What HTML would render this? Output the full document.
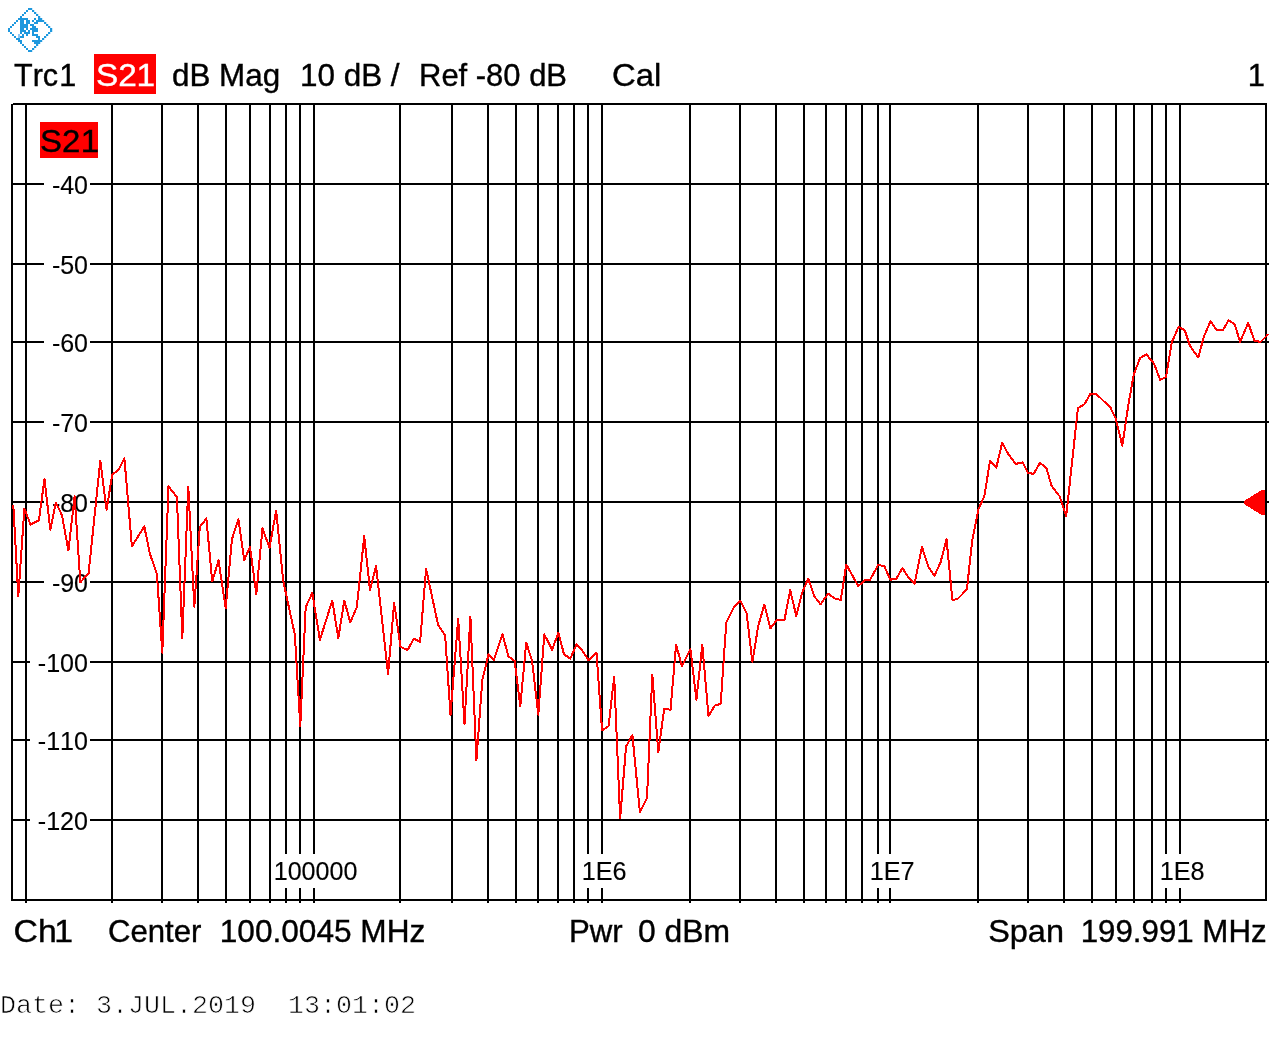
<!DOCTYPE html>
<html lang="en"><head><meta charset="utf-8"><title>S21 dB Mag</title>
<style>html,body{margin:0;padding:0;background:#fff;}body{width:1278px;height:1052px;position:relative;overflow:hidden;font-family:"Liberation Sans",Arial,sans-serif;}</style>
</head><body>
<svg width="1278" height="1052" viewBox="0 0 1278 1052" style="position:absolute;left:0;top:0">
<g shape-rendering="crispEdges" fill="#000">
<rect x="11" y="183" width="1258" height="2"/>
<rect x="11" y="263" width="1258" height="2"/>
<rect x="11" y="341" width="1258" height="2"/>
<rect x="11" y="421" width="1258" height="2"/>
<rect x="11" y="501" width="1258" height="2"/>
<rect x="11" y="581" width="1258" height="2"/>
<rect x="11" y="661" width="1258" height="2"/>
<rect x="11" y="739" width="1258" height="2"/>
<rect x="11" y="819" width="1258" height="2"/>
<rect x="25" y="103" width="2" height="800"/>
<rect x="111" y="103" width="2" height="800"/>
<rect x="161" y="103" width="2" height="800"/>
<rect x="197" y="103" width="2" height="800"/>
<rect x="225" y="103" width="2" height="800"/>
<rect x="249" y="103" width="2" height="800"/>
<rect x="269" y="103" width="2" height="800"/>
<rect x="285" y="103" width="2" height="800"/>
<rect x="299" y="103" width="2" height="800"/>
<rect x="313" y="103" width="2" height="800"/>
<rect x="399" y="103" width="2" height="800"/>
<rect x="451" y="103" width="2" height="800"/>
<rect x="487" y="103" width="2" height="800"/>
<rect x="515" y="103" width="2" height="800"/>
<rect x="537" y="103" width="2" height="800"/>
<rect x="557" y="103" width="2" height="800"/>
<rect x="573" y="103" width="2" height="800"/>
<rect x="587" y="103" width="2" height="800"/>
<rect x="601" y="103" width="2" height="800"/>
<rect x="689" y="103" width="2" height="800"/>
<rect x="739" y="103" width="2" height="800"/>
<rect x="775" y="103" width="2" height="800"/>
<rect x="803" y="103" width="2" height="800"/>
<rect x="825" y="103" width="2" height="800"/>
<rect x="845" y="103" width="2" height="800"/>
<rect x="861" y="103" width="2" height="800"/>
<rect x="877" y="103" width="2" height="800"/>
<rect x="889" y="103" width="2" height="800"/>
<rect x="977" y="103" width="2" height="800"/>
<rect x="1027" y="103" width="2" height="800"/>
<rect x="1063" y="103" width="2" height="800"/>
<rect x="1091" y="103" width="2" height="800"/>
<rect x="1115" y="103" width="2" height="800"/>
<rect x="1133" y="103" width="2" height="800"/>
<rect x="1151" y="103" width="2" height="800"/>
<rect x="1165" y="103" width="2" height="800"/>
<rect x="1179" y="103" width="2" height="800"/>
<rect x="13" y="103" width="1254" height="1"/>
<rect x="11" y="104" width="1256" height="1"/>
<rect x="11" y="899" width="1256" height="2"/>
<rect x="11" y="104" width="2" height="797"/>
<rect x="1265" y="103" width="2" height="798"/>
</g>
<g shape-rendering="crispEdges" fill="#fff">
<rect x="44" y="182" width="46" height="4"/>
<rect x="44" y="262" width="46" height="4"/>
<rect x="44" y="340" width="46" height="4"/>
<rect x="44" y="420" width="46" height="4"/>
<rect x="44" y="500" width="46" height="4"/>
<rect x="44" y="580" width="46" height="4"/>
<rect x="30" y="660" width="60" height="4"/>
<rect x="30" y="738" width="60" height="4"/>
<rect x="30" y="818" width="60" height="4"/>
<rect x="272" y="854" width="86.4" height="34"/>
<rect x="580" y="854" width="47.5" height="34"/>
<rect x="868" y="854" width="47.5" height="34"/>
<rect x="1158" y="854" width="47.5" height="34"/>
</g>
<rect x="94" y="54" width="62" height="40" fill="#f00" shape-rendering="crispEdges"/>
<rect x="40" y="122" width="58" height="36" fill="#f00" shape-rendering="crispEdges"/>
<polygon points="1243.6,501.2 1262,489.8 1265,489.8 1265,515.2 1262,515.2 1243.6,503.8" fill="#f00" shape-rendering="crispEdges"/>
<g font-family="Liberation Sans, Arial, sans-serif" style="font-kerning:none">
<text id="trc1" transform="translate(14.00 86.0) scale(0.9556 1)" dx="0 0 0 1.16" font-size="32" fill="#000" stroke="#000" stroke-width="0.4">Trc1</text>
<text id="s21w" transform="translate(95.96 86.0) scale(1.0444 1)" dx="0 0 -0.28" font-size="32" fill="#fff" stroke="#fff" stroke-width="0.4">S21</text>
<text id="dbmag" transform="translate(171.92 86.0) scale(0.9815 1)" font-size="32" fill="#000" stroke="#000" stroke-width="0.4">dB Mag</text>
<text id="tendb" transform="translate(299.95 86.0) scale(0.9828 1)" font-size="32" fill="#000" stroke="#000" stroke-width="0.4">10 dB /</text>
<text id="ref" transform="translate(419.07 86.0) scale(0.9673 1)" font-size="32" fill="#000" stroke="#000" stroke-width="0.4">Ref -80 dB</text>
<text id="cal" transform="translate(611.97 86.0) scale(1.0267 1)" font-size="32" fill="#000" stroke="#000" stroke-width="0.4">Cal</text>
<text id="one" transform="translate(1247.80 86.0) scale(0.9670 1)" font-size="32" fill="#000" stroke="#000" stroke-width="0.4">1</text>
<text id="s21b" transform="translate(40.07 152.0) scale(1.0306 1)" dx="0 0 0.29" font-size="32" fill="#000" stroke="#000" stroke-width="0.4">S21</text>
<text id="ch1" transform="translate(13.54 942.0) scale(1.0553 1)" dx="0 0 -2.26" font-size="32" fill="#000" stroke="#000" stroke-width="0.4">Ch1</text>
<text id="center" transform="translate(108.03 942.0) scale(0.9726 1)" font-size="32" fill="#000" stroke="#000" stroke-width="0.4">Center</text>
<text id="cfreq" transform="translate(219.74 942.0) scale(0.9877 1)" font-size="32" fill="#000" stroke="#000" stroke-width="0.4">100.0045 MHz</text>
<text id="pwr" transform="translate(569.05 942.0) scale(0.9736 1)" font-size="32" fill="#000" stroke="#000" stroke-width="0.4">Pwr</text>
<text id="dbm" transform="translate(638.00 942.0) scale(0.9967 1)" font-size="32" fill="#000" stroke="#000" stroke-width="0.4">0 dBm</text>
<text id="span" transform="translate(988.19 942.0) scale(1.0139 1)" font-size="32" fill="#000" stroke="#000" stroke-width="0.4">Span</text>
<text id="sfreq" transform="translate(1080.67 942.0) scale(0.9774 1)" font-size="32" fill="#000" stroke="#000" stroke-width="0.4">199.991 MHz</text>
<text id="y40" transform="translate(51.88 193.8)" font-size="25" fill="#000" stroke="#000" stroke-width="0.15">-40</text>
<text id="y50" transform="translate(51.88 273.8)" font-size="25" fill="#000" stroke="#000" stroke-width="0.15">-50</text>
<text id="y60" transform="translate(51.88 351.8)" font-size="25" fill="#000" stroke="#000" stroke-width="0.15">-60</text>
<text id="y70" transform="translate(51.88 431.8)" font-size="25" fill="#000" stroke="#000" stroke-width="0.15">-70</text>
<text id="y80" transform="translate(51.88 511.8)" font-size="25" fill="#000" stroke="#000" stroke-width="0.15">-80</text>
<text id="y90" transform="translate(51.88 591.8)" font-size="25" fill="#000" stroke="#000" stroke-width="0.15">-90</text>
<text id="y100" transform="translate(37.77 671.8) scale(1.0042 1)" font-size="25" fill="#000" stroke="#000" stroke-width="0.15">-100</text>
<text id="y110" transform="translate(37.77 749.8) scale(1.0042 1)" font-size="25" fill="#000" stroke="#000" stroke-width="0.15">-110</text>
<text id="y120" transform="translate(37.77 829.8) scale(1.0042 1)" font-size="25" fill="#000" stroke="#000" stroke-width="0.15">-120</text>
<text id="x100000" transform="translate(273.69 880.0) scale(1.0037 1)" font-size="25" fill="#000" stroke="#000" stroke-width="0.15">100000</text>
<text id="x1E6" transform="translate(581.79 880.0) scale(1.0073 1)" font-size="25" fill="#000" stroke="#000" stroke-width="0.15">1E6</text>
<text id="x1E7" transform="translate(869.69 880.0) scale(1.0073 1)" font-size="25" fill="#000" stroke="#000" stroke-width="0.15">1E7</text>
<text id="x1E8" transform="translate(1159.68 880.0) scale(1.0098 1)" font-size="25" fill="#000" stroke="#000" stroke-width="0.15">1E8</text>
</g>
<text id="date" x="0" y="1012.5" font-family="Liberation Mono, Courier New, monospace" font-size="26.67" fill="#000" stroke="#fff" stroke-width="0.7" paint-order="fill stroke" style="white-space:pre">Date: 3.JUL.2019  13:01:02</text>
<polyline points="13.3,504.8 18.3,596 24.4,508.6 30.5,524.5 38.9,520.3 44.5,478.9 50.3,529.9 55.9,502.5 62,515.4 68.4,550.4 74.6,496.4 80.3,582.4 88.6,573.2 100.3,460.6 106.6,510.1 112.2,474.3 118.2,470.3 124.4,458.4 131.9,546.4 144.3,526.5 149.9,553.8 156.9,573.8 162.3,652.7 168.5,486.5 176.9,496.9 182.3,638.1 188.3,486.5 194.3,606.7 199.8,526.9 206.4,518.5 212.2,581.5 218.5,560.4 225.7,608.2 231.9,539.3 238.4,519.2 244.3,560.1 250,547 256.3,594 262.5,528.4 269.5,547.7 276.2,510.5 283.2,580.9 294.8,634.4 300.3,726.2 305.7,607.1 312.3,592.9 319.9,639.9 332.3,600.5 338.3,638.1 344.3,600.5 350.3,622.4 356.8,607.3 364.2,536.3 370,590.2 376.1,566.2 388.1,674.1 394.1,602.7 400.5,646.7 407.6,650.1 413.8,638.5 420.1,641.9 426.1,568.8 438.2,625.3 445.1,635.3 450.5,714.7 458.2,618.5 464.5,724.1 470.4,616.5 476.4,760.3 482.3,680.2 488.5,654.5 493.8,660.4 502.5,634.2 508.4,656.2 514.7,661 520.3,706.4 526.2,642.6 532,660.4 538.3,714.7 544.3,634.4 552.1,649.7 558.4,632.6 564,654.3 570.3,658.5 576.6,644.5 582.4,650.8 588.5,660.2 596.5,652.9 602.1,730.6 608.6,726 614.2,676.5 620.1,818.4 626.1,746.3 632.4,735 639.9,812.4 647,798.2 652.3,674.5 658.3,752.1 664.2,708.8 670.5,709.8 676.1,644.8 682,666.3 690.4,649 696.4,699.8 702.3,644.8 708.5,716.1 714.8,705.6 720.7,703.9 726.3,622.4 733.6,607.8 740.3,600.9 746.6,613 752.4,662.1 758.1,626.6 764.35,604.5 770.3,628.5 776.8,619.8 784.5,619.8 790.2,590.2 796.3,616.2 802.2,592.5 808.2,578.8 814.5,596.5 820.5,604.4 828.2,593.6 834.1,598.2 840.8,599.9 846.3,564.5 858.3,586.2 864.9,579.9 870.1,579.8 878.2,565 884.3,566.2 890.4,579.7 896.4,578.6 902.5,568 908.5,577.6 914.5,583.7 922,547 928.4,566.9 934.4,575.7 940.5,562.6 946.5,539.1 952.4,600 957.6,599 966.9,589.4 972.3,539.8 978.4,509.3 984.35,496 990.1,460.6 996.3,467.7 1002.2,442.6 1008.1,453.8 1015.8,463.9 1022.6,462.4 1028.1,472.9 1033.7,473.9 1039.9,462.8 1046.4,468 1051.6,485.9 1059.7,496.4 1066.2,516.2 1077.9,408.2 1084.5,404.2 1090.6,393.6 1095.9,393.6 1110.6,407.8 1115.9,419.1 1122.3,445.7 1128.5,403.8 1133.9,373.9 1140.1,358.2 1146.2,354.3 1153.8,363.2 1160.2,379.9 1166,376.9 1171.75,342.4 1178.6,326.8 1184.75,330.2 1189.95,346 1198.3,357.5 1203.8,336.8 1210.6,321 1216.1,329.7 1223.1,329.7 1228.6,320.3 1234.6,324.1 1240.1,341.8 1248.2,322.8 1254.5,341 1260.8,341.8 1268.2,334.2" fill="none" stroke="#f00" stroke-width="2" shape-rendering="crispEdges" stroke-linejoin="round"/>
<path d="M32 8h1v2h-1zM34 10h1v2h-1zM36 12h1v2h-1zM38 14h1v2h-1zM40 16h1v2h-1zM42 18h1v2h-1zM44 20h1v2h-1zM46 22h1v2h-1zM48 24h1v2h-1zM50 26h1v2h-1zM50 32h1v2h-1zM48 34h1v2h-1zM46 36h1v2h-1zM44 38h1v2h-1zM42 40h1v2h-1zM40 42h1v2h-1zM38 44h1v2h-1zM36 46h1v2h-1zM34 48h1v2h-1zM32 50h1v2h-1zM52 28h1v4h-1z" fill="#cdeaf9" shape-rendering="crispEdges"/>
<path d="M28 8h2v2h-2zM30 8h2v2h-2zM26 10h2v2h-2zM32 10h2v2h-2zM24 12h2v2h-2zM34 12h2v2h-2zM22 14h2v2h-2zM36 14h2v2h-2zM20 16h2v2h-2zM38 16h2v2h-2zM18 18h2v2h-2zM20 18h2v2h-2zM22 18h2v2h-2zM24 18h2v2h-2zM26 18h2v2h-2zM34 18h2v2h-2zM38 18h2v2h-2zM40 18h2v2h-2zM16 20h2v2h-2zM20 20h2v2h-2zM22 20h2v2h-2zM26 20h2v2h-2zM28 20h2v2h-2zM32 20h2v2h-2zM36 20h2v2h-2zM38 20h2v2h-2zM40 20h2v2h-2zM42 20h2v2h-2zM14 22h2v2h-2zM20 22h2v2h-2zM22 22h2v2h-2zM26 22h2v2h-2zM28 22h2v2h-2zM34 22h2v2h-2zM36 22h2v2h-2zM44 22h2v2h-2zM12 24h2v2h-2zM20 24h2v2h-2zM22 24h2v2h-2zM24 24h2v2h-2zM26 24h2v2h-2zM30 24h2v2h-2zM32 24h2v2h-2zM46 24h2v2h-2zM10 26h2v2h-2zM20 26h2v2h-2zM22 26h2v2h-2zM24 26h2v2h-2zM26 26h2v2h-2zM32 26h2v2h-2zM34 26h2v2h-2zM48 26h2v2h-2zM8 28h2v2h-2zM20 28h2v2h-2zM22 28h2v2h-2zM26 28h2v2h-2zM30 28h2v2h-2zM32 28h2v2h-2zM34 28h2v2h-2zM36 28h2v2h-2zM50 28h2v2h-2zM8 30h2v2h-2zM20 30h2v2h-2zM22 30h2v2h-2zM24 30h2v2h-2zM28 30h2v2h-2zM32 30h2v2h-2zM34 30h2v2h-2zM36 30h2v2h-2zM50 30h2v2h-2zM10 32h2v2h-2zM20 32h2v2h-2zM24 32h2v2h-2zM26 32h2v2h-2zM28 32h2v2h-2zM32 32h2v2h-2zM48 32h2v2h-2zM12 34h2v2h-2zM22 34h2v2h-2zM26 34h2v2h-2zM32 34h2v2h-2zM34 34h2v2h-2zM36 34h2v2h-2zM46 34h2v2h-2zM14 36h2v2h-2zM20 36h2v2h-2zM22 36h2v2h-2zM36 36h2v2h-2zM38 36h2v2h-2zM44 36h2v2h-2zM16 38h2v2h-2zM18 38h2v2h-2zM38 38h2v2h-2zM42 38h2v2h-2zM18 40h2v2h-2zM20 40h2v2h-2zM32 40h2v2h-2zM34 40h2v2h-2zM36 40h2v2h-2zM38 40h2v2h-2zM40 40h2v2h-2zM20 42h2v2h-2zM34 42h2v2h-2zM36 42h2v2h-2zM38 42h2v2h-2zM22 44h2v2h-2zM36 44h2v2h-2zM24 46h2v2h-2zM34 46h2v2h-2zM26 48h2v2h-2zM32 48h2v2h-2zM28 50h2v2h-2zM30 50h2v2h-2z" fill="#1e98de" shape-rendering="crispEdges"/>
<path d="M18 34h2v4h-2z" fill="#8fc8f4" shape-rendering="crispEdges"/>
</svg>
</body></html>
